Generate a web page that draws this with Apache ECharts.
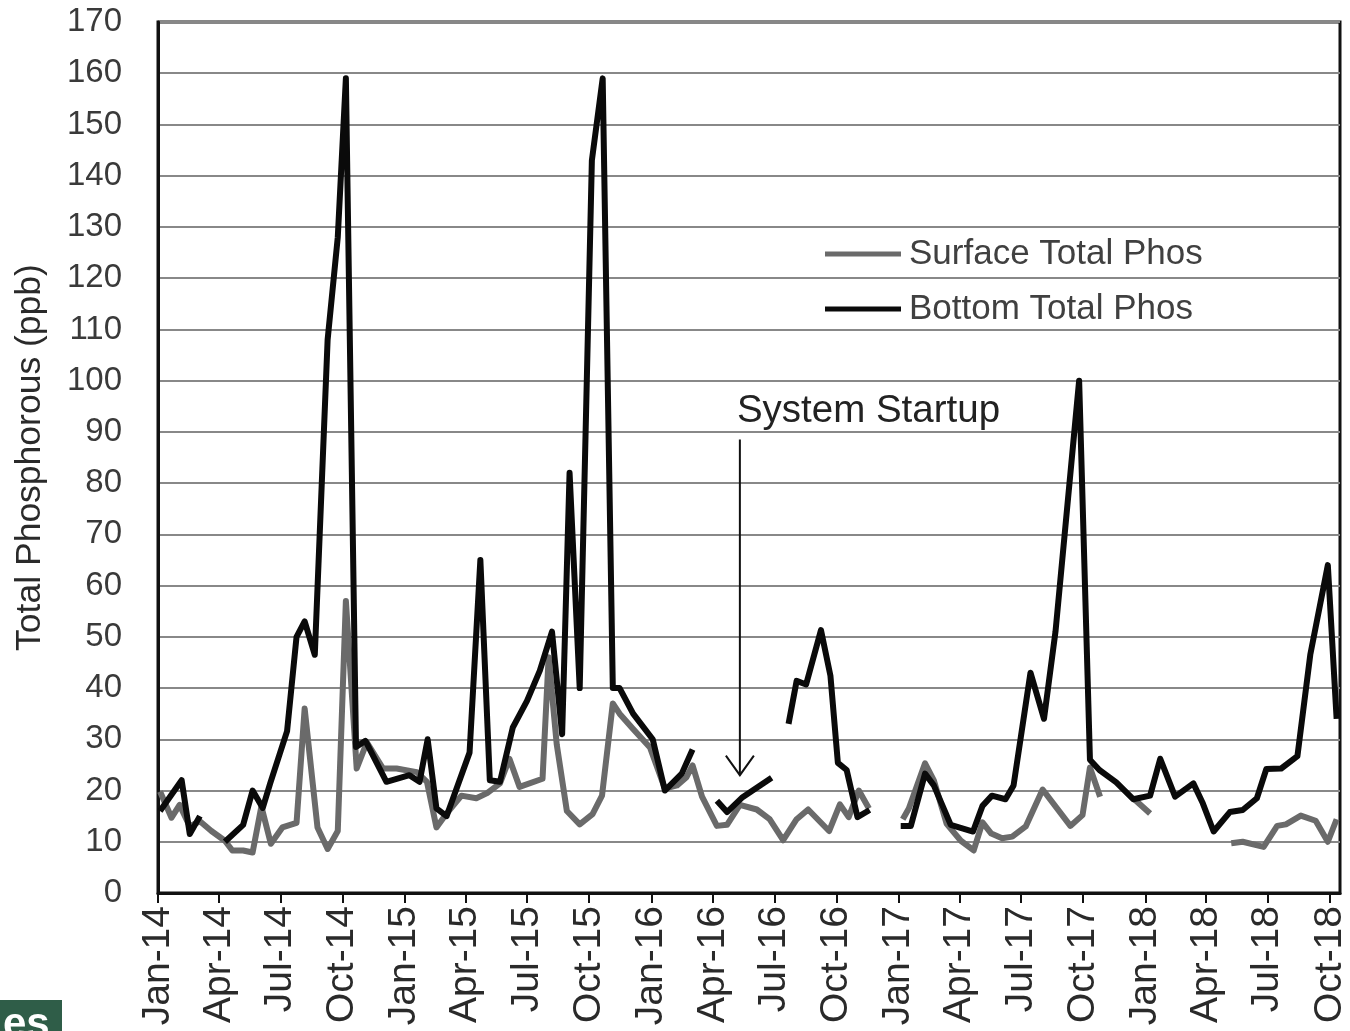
<!DOCTYPE html>
<html>
<head>
<meta charset="utf-8">
<script src="https://cdn.jsdelivr.net/npm/echarts@6/dist/echarts.min.js"></script>
<style>
  html, body { margin: 0; padding: 0; background: #ffffff; }
  #chart { width: 1350px; height: 1031px; }
</style>
</head>
<body>
<div id="chart"></div>
<script>
// Surface samples (ppb); null marks a break in sampling
const surfaceDates = [
  '2014-01-04','2014-01-21','2014-02-02','2014-02-17','2014-03-04','2014-03-21','2014-04-10','2014-04-21',
  '2014-05-07','2014-05-21','2014-06-03','2014-06-17','2014-07-04','2014-07-25','2014-08-06','2014-08-25',
  '2014-09-09','2014-09-24','2014-10-06','2014-10-22','2014-11-06','2014-11-30','2014-12-20','2015-01-19',
  '2015-02-03','2015-02-17','2015-03-04','2015-03-26','2015-04-17','2015-05-03','2015-05-22','2015-06-05',
  '2015-06-20','2015-07-24','2015-08-02','2015-08-14','2015-08-29','2015-09-17','2015-10-06','2015-10-20',
  '2015-11-05','2015-11-15','2015-12-05','2015-12-30','2016-01-21','2016-02-08','2016-02-22','2016-03-02',
  '2016-03-16','2016-04-07','2016-04-22','2016-05-11','2016-06-05','2016-06-24','2016-07-14','2016-08-03',
  '2016-08-20','2016-09-20','2016-10-06','2016-10-19','2016-11-03','2016-11-18','2016-12-10','2017-01-07',
  '2017-01-16','2017-02-09','2017-02-22','2017-03-13','2017-04-03','2017-04-22','2017-05-05','2017-05-18',
  '2017-06-03','2017-06-18','2017-07-08','2017-08-02','2017-09-12','2017-09-30','2017-10-11','2017-10-26',
  '2017-11-20','2017-12-14','2018-01-08','2018-03-01','2018-05-08','2018-05-25','2018-06-25','2018-07-15',
  '2018-07-28','2018-08-19','2018-09-10','2018-09-28','2018-10-11'
];
const surfaceValues = [
  19.8, 14.7, 17.2, 13, 14, 12.1, 10.2, 8.3,
  8.3, 7.9, 16.9, 9.6, 12.8, 13.7, 36, 12.8,
  8.6, 12.1, 57, 24.3, 29.4, 24.3, 24.3, 23.6,
  21.7, 12.8, 15.5, 19, 18.5, 19.5, 21.4, 26.2,
  20.7, 22.3, 46, 29, 16, 13.4, 15.4, 19,
  37, 35, 32, 28.4, 20.4, 21, 22.6, 24.9,
  18.8, 13.1, 13.3, 17.2, 16.3, 14.4, 10.3, 14.4,
  16.3, 12.1, 17.3, 14.8, 20, 16.5, null, 14.4,
  16.5, 25.3, 22, 13.5, 10.2, 8.3, 13.8, 11.6,
  10.7, 11, 13, 20.2, 13.1, 15.2, 24.5, 18.8,
  null, 18.5, 15.5, null, 9.7, 10, 9, 13.1,
  13.4, 15.1, 14.1, 10, 14.4
];

// Bottom samples (ppb); null marks a break in sampling
const bottomDates = [
  '2014-01-04','2014-02-05','2014-02-17','2014-03-04','2014-03-20','2014-04-10','2014-05-07','2014-05-21',
  '2014-06-05','2014-06-16','2014-07-11','2014-07-25','2014-08-06','2014-08-21','2014-09-09','2014-09-24',
  '2014-10-06','2014-10-21','2014-11-04','2014-12-05','2015-01-08','2015-01-23','2015-02-04','2015-02-17',
  '2015-03-04','2015-04-07','2015-04-23','2015-05-07','2015-05-22','2015-06-10','2015-07-01','2015-07-20',
  '2015-08-07','2015-08-22','2015-09-02','2015-09-17','2015-10-05','2015-10-21','2015-11-05','2015-11-15',
  '2015-12-05','2016-01-03','2016-01-21','2016-02-15','2016-03-02','2016-03-20','2016-04-07','2016-04-22',
  '2016-05-15','2016-06-27','2016-07-10','2016-07-22','2016-08-03','2016-08-17','2016-09-08','2016-09-22',
  '2016-10-03','2016-10-16','2016-11-01','2016-11-19','2016-12-10','2017-01-04','2017-01-19','2017-02-09',
  '2017-02-22','2017-03-19','2017-04-21','2017-05-05','2017-05-19','2017-06-08','2017-06-20','2017-07-15',
  '2017-08-04','2017-08-21','2017-09-25','2017-10-11','2017-10-25','2017-11-19','2017-12-14','2018-01-08',
  '2018-01-23','2018-02-14','2018-03-13','2018-03-27','2018-04-12','2018-05-06','2018-05-25','2018-06-15',
  '2018-06-29','2018-07-21','2018-08-14','2018-09-02','2018-09-28','2018-10-11'
];
const bottomValues = [
  16, 22, 11.5, 15, null, 10, 13.3, 20,
  16.6, 21.4, 31.6, 50, 53, 46.5, 108, 128,
  159, 28.5, 29.7, 21.7, 23, 21.7, 30, 16.5,
  15, 27.4, 65, 22, 21.7, 32.3, 37.5, 43.4,
  51, 31, 82, 40, 143, 159, 40, 40,
  35, 30, 20, 23.3, 28, null, 18, 15.8,
  18.7, 22.5, null, 33, 41.4, 40.7, 51.3, 42.4,
  25.4, 24, 14.8, 16.2, null, 13.1, 13.1, 23.3,
  21, 13.3, 12, 17, 19, 18.3, 21, 43,
  34, 51, 100, 26, 24, 21.6, 18.3, 19,
  26.2, 18.8, 21.4, 17.5, 12, 15.8, 16.2, 18.5,
  24.2, 24.3, 26.7, 46.5, 64, 34
];

// Quarterly ticks along the date axis
const tickMonths = [
  '2014-01','2014-04','2014-07','2014-10','2015-01','2015-04','2015-07','2015-10',
  '2016-01','2016-04','2016-07','2016-10','2017-01','2017-04','2017-07','2017-10',
  '2018-01','2018-04','2018-07','2018-10'
];
const monthNames = ['Jan','Feb','Mar','Apr','May','Jun','Jul','Aug','Sep','Oct','Nov','Dec'];

// Annotation: start of the treatment system
const startupDate = '2016-05-11';
const startupLabel = 'System Startup';
const startupTop = 88.5;
const startupTip = 23;

const axisStart = '2014-01-01';
const axisEnd = '2018-10-16';

function toTime(s) {
  const p = s.split('-').map(Number);
  return new Date(p[0], p[1] - 1, p[2] || 1).getTime();
}
function pairs(dates, values) {
  return dates.map((d, i) => [toTime(d), values[i] == null ? '-' : values[i]]);
}
const tickValues = tickMonths.map(toTime);

const chart = echarts.init(document.getElementById('chart'), null, { renderer: 'canvas' });

const option = {
  backgroundColor: '#ffffff',
  animation: false,
  grid: {
    left: 158, right: 10, top: 22, bottom: 138,
    show: true, borderColor: '#111', borderWidth: 3, backgroundColor: 'transparent'
  },
  legend: {
    orient: 'vertical',
    left: 825, top: 235,
    padding: 0,
    itemWidth: 76, itemHeight: 5, itemGap: 17,
    icon: 'rect',
    textStyle: { fontFamily: 'Liberation Sans', fontSize: 35, color: '#404040', lineHeight: 38, padding: [0, 0, 0, 3] },
    data: ['Surface Total Phos', 'Bottom Total Phos']
  },
  xAxis: {
    type: 'value',
    min: toTime(axisStart),
    max: toTime(axisEnd),
    splitLine: { show: false },
    axisLine: { show: true, lineStyle: { color: '#111', width: 3 } },
    axisTick: { show: true, customValues: tickValues, length: 10, inside: false, lineStyle: { color: '#111', width: 2 } },
    axisLabel: {
      customValues: tickValues,
      rotate: 90,
      margin: 13,
      fontFamily: 'Liberation Sans',
      fontSize: 39,
      color: '#2a2a2a',
      formatter: function (v) {
        const d = new Date(v);
        return monthNames[d.getMonth()] + '-' + String(d.getFullYear()).slice(2);
      }
    }
  },
  yAxis: {
    type: 'value',
    min: 0, max: 170, interval: 10,
    name: 'Total Phosphorous (ppb)',
    nameLocation: 'middle',
    nameGap: 110,
    nameTextStyle: { fontFamily: 'Liberation Sans', fontSize: 35.5, color: '#2a2a2a' },
    axisLine: { show: true, lineStyle: { color: '#111', width: 3 } },
    axisTick: { show: false },
    axisLabel: { fontFamily: 'Liberation Sans', fontSize: 33, color: '#3a3a3a', margin: 36 },
    splitLine: { show: true, lineStyle: { color: '#888888', width: 2 } }
  },
  series: [
    {
      name: 'Surface Total Phos',
      type: 'line',
      data: pairs(surfaceDates, surfaceValues),
      showSymbol: false,
      symbol: 'none',
      connectNulls: false,
      color: '#6a6a6a',
      lineStyle: { color: '#6a6a6a', width: 6, join: 'round' },
      z: 2
    },
    {
      name: 'Bottom Total Phos',
      type: 'line',
      data: pairs(bottomDates, bottomValues),
      showSymbol: false,
      symbol: 'none',
      connectNulls: false,
      color: '#0a0a0a',
      lineStyle: { color: '#0a0a0a', width: 6, join: 'round' },
      z: 3
    }
  ]
};

chart.setOption(option);

// Arrow and caption placed through the chart's own scales
function drawAnnotation() {
  const top = chart.convertToPixel({ gridIndex: 0 }, [toTime(startupDate), startupTop]);
  const tip = chart.convertToPixel({ gridIndex: 0 }, [toTime(startupDate), startupTip]);
  const head = 14;
  const h = chart.getHeight();
  chart.setOption({
    graphic: [
      {
        type: 'line', z: 10,
        shape: { x1: top[0], y1: top[1], x2: tip[0], y2: tip[1] },
        style: { stroke: '#111', lineWidth: 2 }
      },
      {
        type: 'polyline', z: 10,
        shape: { points: [[tip[0] - head, tip[1] - head * 1.4], [tip[0], tip[1]], [tip[0] + head, tip[1] - head * 1.4]] },
        style: { stroke: '#111', lineWidth: 2, fill: null }
      },
      {
        type: 'text', z: 10,
        x: top[0] - 3, y: top[1] - 28,
        style: {
          text: startupLabel, fill: '#222',
          font: '38.5px "Liberation Sans"',
          textAlign: 'left', textVerticalAlign: 'middle'
        }
      },
      // publisher badge cut by the lower-left corner
      { type: 'rect', z: 10, shape: { x: 0, y: h - 31, width: 62, height: 31 }, style: { fill: '#2f5d48' } },
      {
        type: 'text', z: 11, x: 3, y: h - 27,
        style: { text: 'es', fill: '#ffffff', font: 'bold 42px "Liberation Sans"', textVerticalAlign: 'top' }
      }
    ]
  });
}
drawAnnotation();
</script>
</body>
</html>
